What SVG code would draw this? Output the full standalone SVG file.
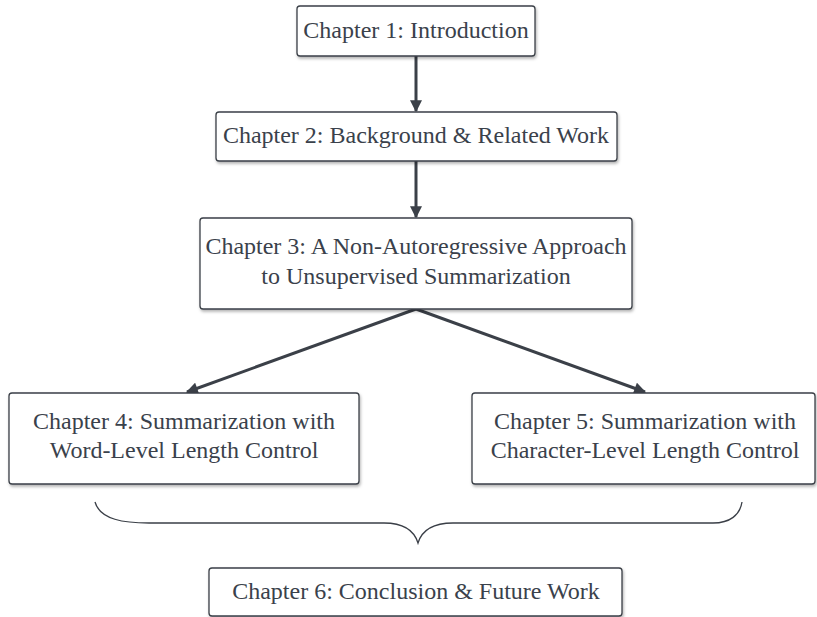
<svg xmlns="http://www.w3.org/2000/svg" width="817" height="617" viewBox="0 0 817 617">
<style>
.box{fill:#ffffff;stroke:#3a3f47;stroke-width:1.3;filter:url(#sh)}
.t{font-family:"Liberation Serif","Tinos","DejaVu Serif",serif;font-size:24px;fill:#3a414b;text-anchor:middle;dominant-baseline:central}
.c{stroke:#3b4048;stroke-width:3;fill:none}
.brace{stroke:#3a3f47;stroke-width:1.3;fill:none}
</style>
<defs>
<filter id="sh" x="-10%" y="-20%" width="120%" height="150%">
<feDropShadow dx="1" dy="2" stdDeviation="1.5" flood-color="#000" flood-opacity="0.3"/>
</filter>
<marker id="ah" viewBox="0 0 10 10" refX="9" refY="5" markerWidth="4.3" markerHeight="4" markerUnits="strokeWidth" orient="auto">
<path d="M0,0 L10,5 L0,10 Z" fill="#3b4048"/>
</marker>
</defs>
<g id="connectors">
<line class="c" x1="416" y1="56" x2="416" y2="111" marker-end="url(#ah)"/>
<line class="c" x1="416" y1="161" x2="416" y2="217" marker-end="url(#ah)"/>
<line class="c" x1="416" y1="309" x2="187" y2="392" marker-end="url(#ah)"/>
<line class="c" x1="416" y1="309" x2="645" y2="392" marker-end="url(#ah)"/>
<path class="brace" d="M95,502 C100,520 125,523 149,523 L384,523 C402,523 414,530 418,543 C422,530 434,523 453,523 L713,523 C730,523 740,515 742,502"/>
</g>
<g id="n1"><rect class="box" x="297" y="6" width="238" height="50" rx="3"/><text class="t" x="416" y="30">Chapter 1: Introduction</text></g>
<g id="n2"><rect class="box" x="216" y="112" width="401" height="49" rx="3"/><text class="t" x="416" y="135">Chapter 2: Background &amp; Related Work</text></g>
<g id="n3"><rect class="box" x="200" y="218" width="432" height="91" rx="3"/><text class="t" x="416" y="246">Chapter 3: A Non-Autoregressive Approach</text><text class="t" x="416" y="276">to Unsupervised Summarization</text></g>
<g id="n4"><rect class="box" x="9" y="393" width="350" height="91" rx="3"/><text class="t" x="184" y="421">Chapter 4: Summarization with</text><text class="t" x="184" y="450">Word-Level Length Control</text></g>
<g id="n5"><rect class="box" x="472" y="393" width="343" height="91" rx="3"/><text class="t" x="645" y="421">Chapter 5: Summarization with</text><text class="t" x="645" y="450">Character-Level Length Control</text></g>
<g id="n6"><rect class="box" x="209" y="568" width="413" height="48" rx="3"/><text class="t" x="416" y="591">Chapter 6: Conclusion &amp; Future Work</text></g>
</svg>
